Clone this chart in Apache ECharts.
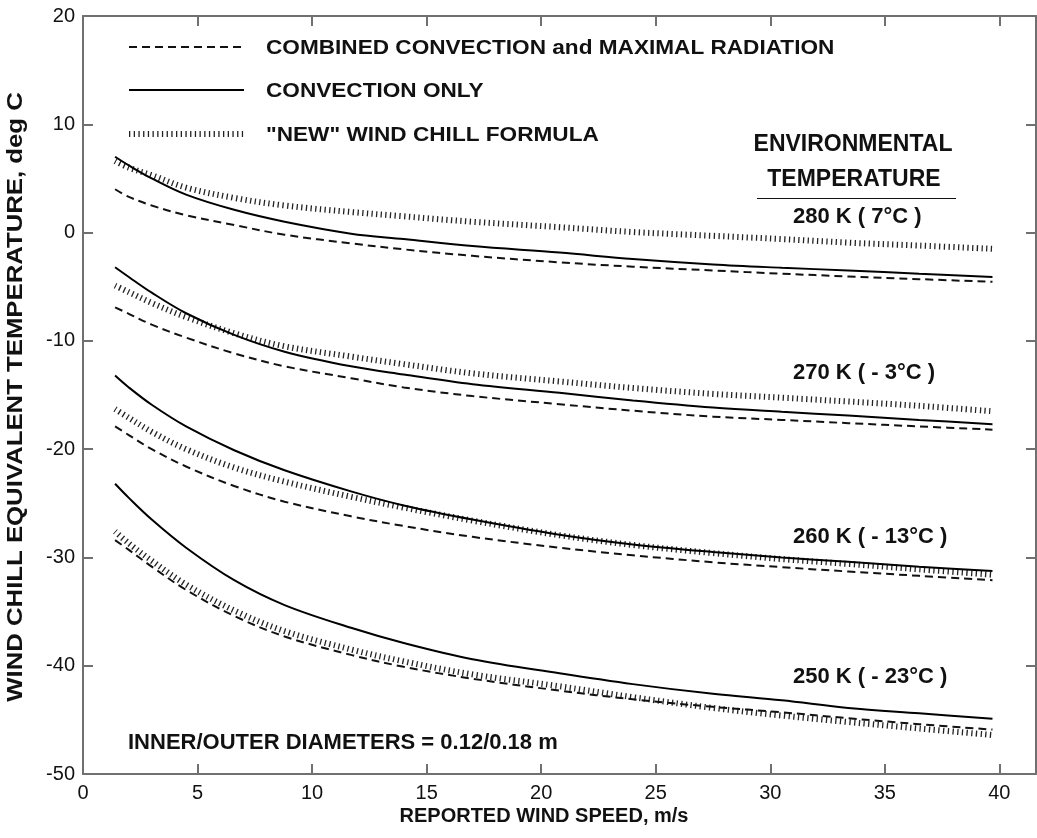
<!DOCTYPE html>
<html>
<head>
<meta charset="utf-8">
<script src="https://cdn.jsdelivr.net/npm/echarts@6/dist/echarts.min.js"></script>
<style>
html,body{margin:0;padding:0;background:#fff;}
#chart{width:1037px;height:838px;}
</style>
</head>
<body>
<div id="chart"></div>
<script>
// Wind speed (m/s) sample points
var windSpeed = [1.4, 2, 3, 4.5, 6.6, 8.8, 11.7, 14, 17, 20.8, 24, 27.5, 30.5, 33.4, 36.5, 39.7];

// 280 K (7°C)
var conv280 = [7.0, 6.2, 5.0, 3.5, 2.1, 1.0, -0.1, -0.6, -1.25, -1.85, -2.45, -2.95, -3.25, -3.5, -3.8, -4.1];
var comb280 = [4.0, 3.3, 2.5, 1.6, 0.7, -0.2, -1.0, -1.55, -2.15, -2.75, -3.15, -3.5, -3.8, -4.05, -4.3, -4.55];
var newf280 = [6.6, 6.0, 5.3, 4.15, 3.2, 2.5, 1.9, 1.5, 1.0, 0.5, 0.05, -0.3, -0.6, -0.93, -1.2, -1.5];

// 270 K (-3°C)
var conv270 = [-3.2, -4.1, -5.55, -7.45, -9.45, -11.0, -12.35, -13.1, -14.0, -14.8, -15.5, -16.15, -16.55, -16.9, -17.3, -17.7];
var comb270 = [-6.9, -7.5, -8.5, -9.7, -11.15, -12.35, -13.45, -14.3, -15.1, -15.85, -16.45, -17.0, -17.3, -17.6, -17.9, -18.2];
var newf270 = [-4.9, -5.5, -6.5, -7.8, -9.3, -10.5, -11.45, -12.15, -13.0, -13.75, -14.35, -14.9, -15.25, -15.6, -16.0, -16.5];

// 260 K (-13°C)
var conv260 = [-13.2, -14.3, -15.9, -17.9, -20.1, -21.95, -23.9, -25.2, -26.5, -27.9, -28.8, -29.5, -30.0, -30.4, -30.85, -31.25];
var comb260 = [-17.9, -18.7, -20.0, -21.6, -23.4, -24.85, -26.2, -27.1, -28.1, -29.1, -29.8, -30.45, -30.9, -31.3, -31.7, -32.1];
var newf260 = [-16.3, -17.1, -18.4, -20.0, -21.7, -23.0, -24.4, -25.4, -26.6, -27.95, -28.85, -29.6, -30.15, -30.6, -31.1, -31.6];

// 250 K (-23°C)
var conv250 = [-23.2, -24.5, -26.5, -29.1, -32.1, -34.4, -36.5, -37.9, -39.4, -40.7, -41.7, -42.6, -43.2, -43.9, -44.4, -44.9];
var comb250 = [-28.4, -29.3, -30.85, -33.0, -35.4, -37.3, -39.0, -40.1, -41.2, -42.3, -43.1, -43.8, -44.3, -44.85, -45.4, -45.9];
var newf250 = [-27.6, -28.7, -30.3, -32.5, -34.9, -36.8, -38.5, -39.6, -40.8, -41.9, -42.9, -43.9, -44.6, -45.2, -45.8, -46.4];

// Tick labels
var xTicks = [0, 5, 10, 15, 20, 25, 30, 35, 40];
var yTicks = [-50, -40, -30, -20, -10, 0, 10, 20];

var seriesNames = ['COMBINED CONVECTION and MAXIMAL RADIATION', 'CONVECTION ONLY', '"NEW" WIND CHILL FORMULA'];
var tempLabels = ['280 K ( 7°C )', '270 K ( - 3°C )', '260 K ( - 13°C )', '250 K ( - 23°C )'];

var FONT = 'Liberation Sans, Arial, sans-serif';

function pairs(arr) { return windSpeed.map(function (x, i) { return [x, arr[i]]; }); }

var styles = {
  comb: { color: '#111', width: 2, type: [8, 5] },
  conv: { color: '#000', width: 2, type: 'solid' },
  newf: { color: '#222', width: 6, type: [1.3, 3.4] }
};

function mk(name, arr, st) {
  return {
    type: 'line', name: name, data: pairs(arr), smooth: 0.35, symbol: 'none',
    lineStyle: { color: st.color, width: st.width, type: st.type, cap: 'butt' },
    itemStyle: { color: st.color },
    animation: false, silent: true
  };
}

var series = [];
[[comb280, conv280, newf280], [comb270, conv270, newf270], [comb260, conv260, newf260], [comb250, conv250, newf250]].forEach(function (g) {
  series.push(mk(seriesNames[2], g[2], styles.newf));
  series.push(mk(seriesNames[1], g[1], styles.conv));
  series.push(mk(seriesNames[0], g[0], styles.comb));
});

var axisLineStyle = { color: '#707070', width: 2 };

function txt(x, y, s, size, align, sx) {
  return { type: 'text', x: x, y: y, scaleX: sx || 1, style: { text: s, font: 'bold ' + size + 'px ' + FONT, fill: '#111', textAlign: align || 'left', textVerticalAlign: 'middle' } };
}

// legend built as graphics (sample line + label)
var legendKeys = [styles.comb, styles.conv, styles.newf];
var legendY = [47, 90, 134];
var legendGraphics = [];
seriesNames.forEach(function (n, i) {
  var st = legendKeys[i];
  legendGraphics.push({ type: 'line', shape: { x1: 129, y1: legendY[i], x2: 244, y2: legendY[i] },
    style: { stroke: st.color, lineWidth: st.width, lineDash: st.type === 'solid' ? null : st.type, lineCap: 'butt' } });
  legendGraphics.push(txt(266, legendY[i] + 1, n, 20, 'left', 1.13));
});

var chart = echarts.init(document.getElementById('chart'), null, { renderer: 'canvas' });
chart.setOption({
  backgroundColor: '#fff',
  animation: false,
  grid: { left: 83, top: 16, right: 1, bottom: 64, containLabel: false },
  xAxis: [{
    type: 'value', min: 0, max: 41.6, interval: 5, position: 'bottom',
    axisLine: { show: true, onZero: false, lineStyle: axisLineStyle },
    axisTick: { show: true, inside: true, length: 10, lineStyle: axisLineStyle, customValues: xTicks },
    axisLabel: { customValues: xTicks, fontFamily: FONT, fontSize: 20, color: '#111', margin: 9 },
    splitLine: { show: false }
  }, {
    type: 'value', min: 0, max: 41.6, interval: 5, position: 'top',
    axisLine: { show: true, onZero: false, lineStyle: axisLineStyle },
    axisTick: { show: true, inside: true, length: 10, lineStyle: axisLineStyle, customValues: xTicks },
    axisLabel: { show: false },
    splitLine: { show: false }
  }],
  yAxis: [{
    type: 'value', min: -50, max: 20, interval: 10, position: 'left',
    axisLine: { show: true, onZero: false, lineStyle: axisLineStyle },
    axisTick: { show: true, inside: true, length: 10, lineStyle: axisLineStyle, customValues: yTicks },
    axisLabel: { customValues: yTicks, fontFamily: FONT, fontSize: 20, color: '#111', margin: 8 },
    splitLine: { show: false }
  }, {
    type: 'value', min: -50, max: 20, interval: 10, position: 'right',
    axisLine: { show: true, onZero: false, lineStyle: axisLineStyle },
    axisTick: { show: true, inside: true, length: 10, lineStyle: axisLineStyle, customValues: yTicks },
    axisLabel: { show: false },
    splitLine: { show: false }
  }],
  graphic: legendGraphics.concat([
    { type: 'text', x: 16, y: 397, rotation: Math.PI / 2, scaleX: 1.17, style: { text: 'WIND CHILL EQUIVALENT TEMPERATURE, deg C', font: 'bold 22px ' + FONT, fill: '#111', textAlign: 'center', textVerticalAlign: 'middle' } },
    txt(544, 816, 'REPORTED WIND SPEED, m/s', 20, 'center'),
    txt(853, 145, 'ENVIRONMENTAL', 23, 'center'),
    txt(854, 180, 'TEMPERATURE', 23, 'center'),
    { type: 'line', shape: { x1: 757, y1: 198.5, x2: 956, y2: 198.5 }, style: { stroke: '#111', lineWidth: 1 } },
    txt(793, 217, tempLabels[0], 22, 'left'),
    txt(793, 373, tempLabels[1], 22, 'left'),
    txt(793, 537, tempLabels[2], 22, 'left'),
    txt(793, 677, tempLabels[3], 22, 'left'),
    txt(128, 743, 'INNER/OUTER DIAMETERS = 0.12/0.18 m', 22, 'left')
  ]),
  series: series
});
</script>
</body>
</html>
